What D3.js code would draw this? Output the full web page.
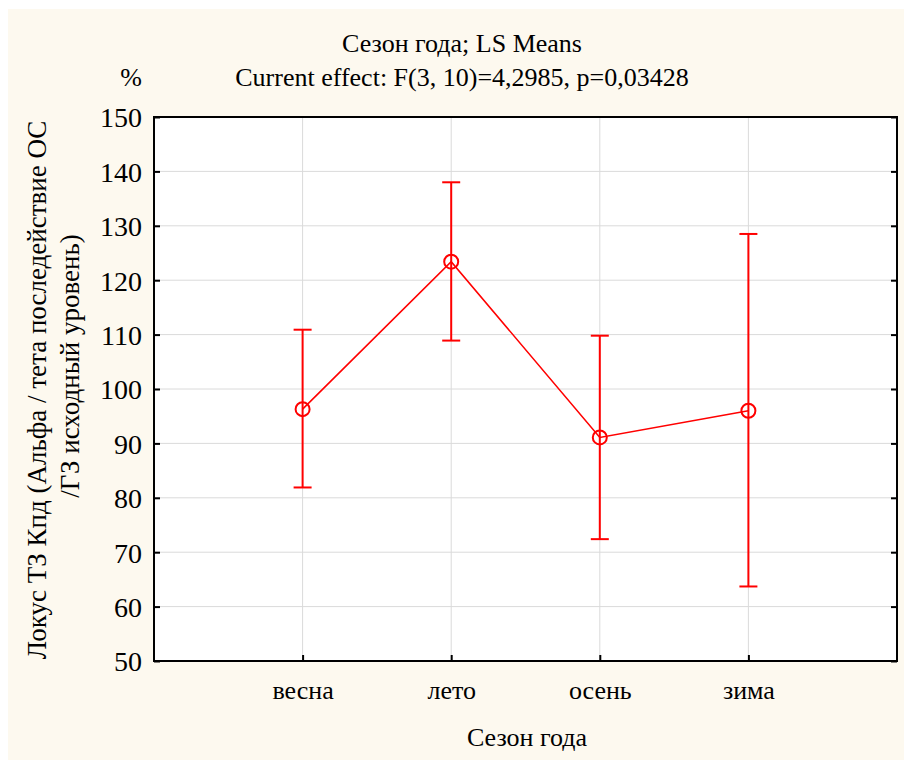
<!DOCTYPE html>
<html>
<head>
<meta charset="utf-8">
<script src="https://cdn.jsdelivr.net/npm/d3@7"></script>
<style>
  html, body { margin: 0; padding: 0; background: #ffffff; }
  svg { display: block; }
</style>
</head>
<body>
<div id="chart"></div>
<script>
// season categories and LS means with confidence limits
const seasons = ['весна', 'лето', 'осень', 'зима'];
const means = [96.3, 123.4, 91.1, 96.0];
const upper = [110.9, 138.0, 109.8, 128.5];
const lower = [81.9, 108.9, 72.4, 63.7];
const yTicks = [50, 60, 70, 80, 90, 100, 110, 120, 130, 140, 150];

const W = 904, H = 760;
const margin = { top: 117, right: 7, bottom: 99, left: 154 };
const width = W - margin.left - margin.right,
  height = H - margin.top - margin.bottom;
const red = '#ff0000';
const font = '"Liberation Serif", "Times New Roman", serif';

const svg = d3.select('#chart')
  .append('svg')
  .attr('width', W)
  .attr('height', H);

// beige panel
svg.append('rect')
  .attr('x', 8).attr('y', 9)
  .attr('width', W - 8).attr('height', H - 9)
  .attr('fill', '#fdf9ef');

const g = svg.append('g')
  .attr('transform', 'translate(' + margin.left + ',' + margin.top + ')');

g.append('rect')
  .attr('width', width).attr('height', height)
  .attr('fill', '#ffffff');

const x = d3.scalePoint().domain(seasons).range([0, width]).padding(1);
const y = d3.scaleLinear().domain([50, 150]).range([height, 0]);

// grid
g.selectAll('.hgrid')
  .data(yTicks.slice(1, -1))
  .join('line')
  .attr('x1', 0).attr('x2', width)
  .attr('y1', d => y(d)).attr('y2', d => y(d))
  .attr('stroke', '#dadada').attr('stroke-width', 1);

g.selectAll('.vgrid')
  .data(seasons)
  .join('line')
  .attr('x1', d => x(d)).attr('x2', d => x(d))
  .attr('y1', 0).attr('y2', height)
  .attr('stroke', '#dadada').attr('stroke-width', 1);

// axes (inner ticks)
const yAxisL = g.append('g')
  .call(d3.axisLeft(y).tickValues(yTicks).tickSize(-6).tickPadding(12));
const yAxisR = g.append('g')
  .attr('transform', 'translate(' + width + ',0)')
  .call(d3.axisRight(y).tickValues(yTicks).tickSize(-6).tickFormat(''));
const xAxis = g.append('g')
  .attr('transform', 'translate(0,' + height + ')')
  .call(d3.axisBottom(x).tickSize(-6).tickPadding(20));

[yAxisL, yAxisR, xAxis].forEach(a => {
  a.select('.domain').remove();
  a.selectAll('line').attr('stroke', '#000').attr('stroke-width', 2);
  a.selectAll('text')
    .attr('fill', '#000')
    .style('font-family', font);
});
yAxisL.selectAll('text').style('font-size', '28px').attr('dy', '0.35em');
xAxis.selectAll('text').style('font-size', '26px').attr('dy', '0.71em');

// frame
g.append('rect')
  .attr('width', width).attr('height', height)
  .attr('fill', 'none')
  .attr('stroke', '#000').attr('stroke-width', 2);

// error bars
const bars = g.selectAll('.err')
  .data(seasons)
  .join('g');
bars.append('line')
  .attr('x1', d => x(d)).attr('x2', d => x(d))
  .attr('y1', (d, i) => y(upper[i])).attr('y2', (d, i) => y(lower[i]))
  .attr('stroke', red).attr('stroke-width', 2);
bars.append('line')
  .attr('x1', d => x(d) - 9).attr('x2', d => x(d) + 9)
  .attr('y1', (d, i) => y(upper[i])).attr('y2', (d, i) => y(upper[i]))
  .attr('stroke', red).attr('stroke-width', 2);
bars.append('line')
  .attr('x1', d => x(d) - 9).attr('x2', d => x(d) + 9)
  .attr('y1', (d, i) => y(lower[i])).attr('y2', (d, i) => y(lower[i]))
  .attr('stroke', red).attr('stroke-width', 2);

// mean line
const line = d3.line()
  .x((d, i) => x(seasons[i]))
  .y(d => y(d));
g.append('path')
  .datum(means)
  .attr('d', line)
  .attr('fill', 'none')
  .attr('stroke', red).attr('stroke-width', 1.6);

g.selectAll('.pt')
  .data(means)
  .join('circle')
  .attr('cx', (d, i) => x(seasons[i]))
  .attr('cy', d => y(d))
  .attr('r', 7)
  .attr('fill', 'none')
  .attr('stroke', red).attr('stroke-width', 2);

// titles
svg.append('text')
  .attr('x', 462).attr('y', 52)
  .attr('text-anchor', 'middle')
  .style('font-family', font).style('font-size', '26px')
  .text('Сезон года; LS Means');
svg.append('text')
  .attr('x', 462).attr('y', 86)
  .attr('text-anchor', 'middle')
  .style('font-family', font).style('font-size', '26px')
  .text('Current effect: F(3, 10)=4,2985, p=0,03428');
svg.append('text')
  .attr('x', 131).attr('y', 86)
  .attr('text-anchor', 'middle')
  .style('font-family', font).style('font-size', '26px')
  .text('%');

// X label
svg.append('text')
  .attr('x', 527).attr('y', 746)
  .attr('text-anchor', 'middle')
  .style('font-family', font).style('font-size', '26px')
  .text('Сезон года');

// Y label (two lines)
svg.append('text')
  .attr('transform', 'translate(46,390)rotate(-90)')
  .attr('text-anchor', 'middle')
  .style('font-family', font).style('font-size', '27px')
  .text('Локус ТЗ Кпд (Альфа / тета последействие ОС');
svg.append('text')
  .attr('transform', 'translate(79,366)rotate(-90)')
  .attr('text-anchor', 'middle')
  .style('font-family', font).style('font-size', '27px')
  .text('/ГЗ исходный уровень)');
</script>
</body>
</html>
